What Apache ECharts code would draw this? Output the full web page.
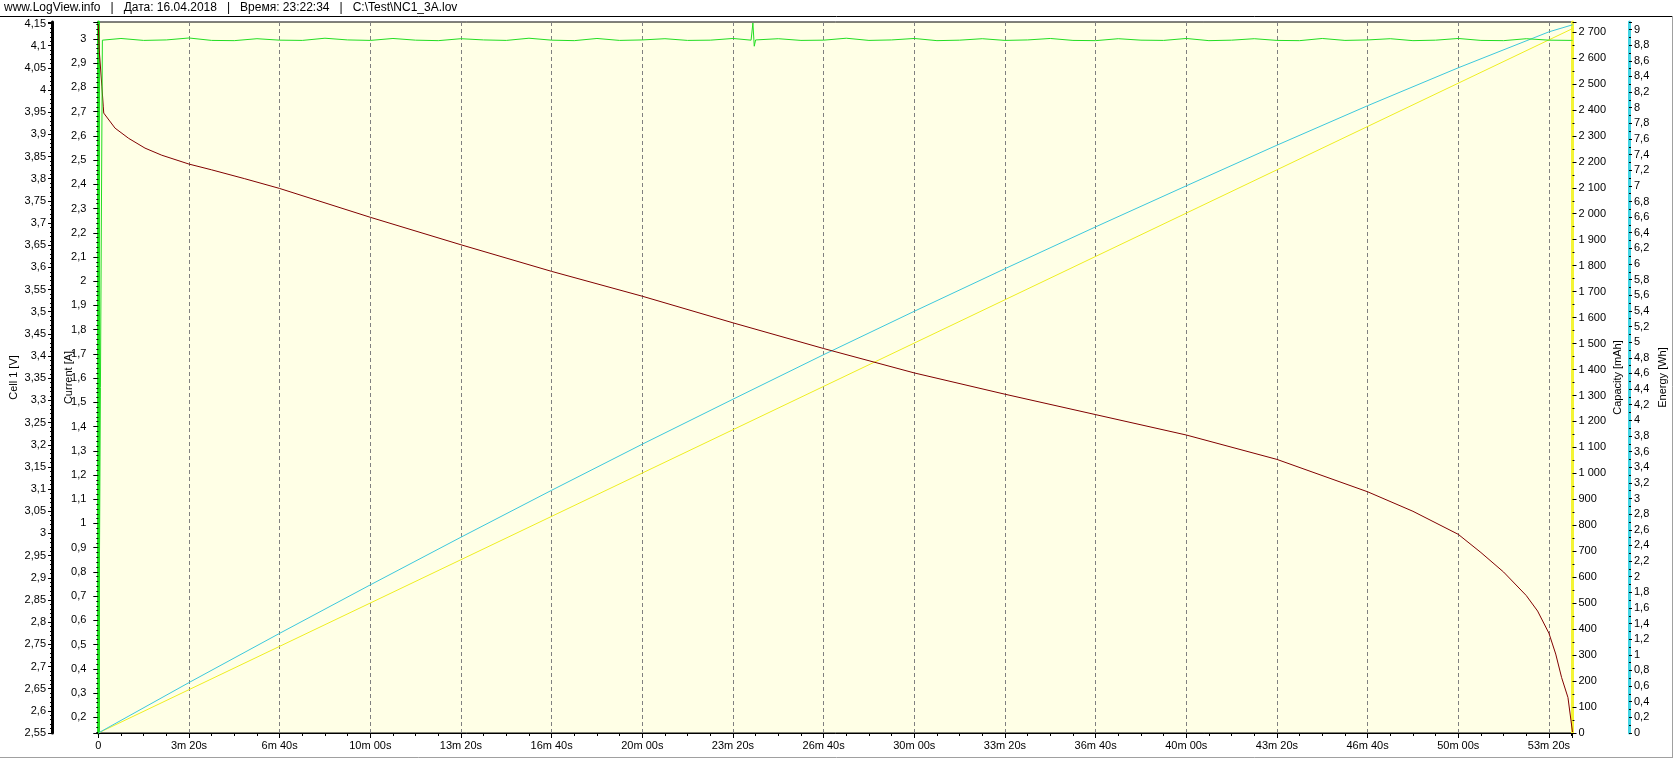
<!DOCTYPE html>
<html><head><meta charset="utf-8">
<script src="https://cdn.jsdelivr.net/npm/echarts@6/dist/echarts.min.js"></script>
<style>html,body{margin:0;padding:0;background:#fff;}#c{width:1676px;height:758px;}</style>
</head><body><div id="c"></div>
<script>
const headerText = 'www.LogView.info   |   Дата: 16.04.2018   |   Время: 23:22:34   |   C:\\Test\\NC1_3A.lov';
const axisNames = ['Cell 1 [V]', 'Current [A]', 'Capacity [mAh]', 'Energy [Wh]'];

// Cell 1 voltage [V] vs time [s]
const voltTime = [0, 2, 8, 11, 12, 37, 67, 103, 140, 200, 250, 323, 400, 600, 800, 1000, 1200, 1400, 1600, 1800, 2000, 2200, 2400, 2600, 2800, 2900, 3000, 3050, 3100, 3150, 3175, 3200, 3215, 3228, 3242, 3252];
const voltVals = [4.148, 4.09, 4.007, 3.962, 3.948, 3.914, 3.891, 3.869, 3.853, 3.833, 3.820, 3.800, 3.778, 3.713, 3.651, 3.591, 3.535, 3.475, 3.417, 3.362, 3.314, 3.268, 3.222, 3.167, 3.094, 3.05, 2.998, 2.957, 2.913, 2.86, 2.825, 2.775, 2.728, 2.675, 2.63, 2.552];

// Current [A] vs time [s]
const currTime = [0, 9, 50, 100, 150, 200, 250, 300, 350, 400, 450, 500, 550, 600, 650, 700, 750, 800, 850, 900, 950, 1000, 1050, 1100, 1150, 1200, 1250, 1300, 1350, 1400, 1440, 1444, 1447, 1450, 1500, 1550, 1600, 1650, 1700, 1750, 1800, 1850, 1900, 1950, 2000, 2050, 2100, 2150, 2200, 2250, 2300, 2350, 2400, 2450, 2500, 2550, 2600, 2650, 2700, 2750, 2800, 2850, 2900, 2950, 3000, 3050, 3100, 3150, 3200, 3250, 3252];
const currVals = [0, 2.995, 3.002, 2.994, 2.996, 3.004, 2.994, 2.993, 3.001, 2.995, 2.994, 3.003, 2.996, 2.994, 3.002, 2.995, 2.993, 3.001, 2.996, 2.994, 3.003, 2.995, 2.993, 3.002, 2.994, 2.996, 3.001, 2.994, 2.995, 3.002, 2.995, 3.066, 2.970, 2.996, 3.001, 2.994, 2.995, 3.003, 2.994, 2.996, 3.002, 2.993, 2.995, 3.001, 2.994, 2.996, 3.002, 2.994, 2.993, 3.001, 2.995, 2.994, 3.002, 2.993, 2.995, 3.001, 2.994, 2.993, 3.002, 2.994, 2.996, 3.001, 2.993, 2.995, 3.002, 2.994, 2.993, 3.001, 2.995, 2.994, 2.994];

// Capacity [mAh] vs time [s]
const capTime = [0, 1600, 3252];
const capVals = [0, 1335, 2713];

// Energy [Wh] vs time [s]
const energyTime = [0, 200, 400, 600, 800, 1000, 1200, 1400, 1600, 1800, 2000, 2200, 2400, 2600, 2800, 3000, 3200, 3252];
const energyVals = [0, 0.645, 1.275, 1.895, 2.505, 3.105, 3.695, 4.27, 4.84, 5.395, 5.94, 6.475, 7.0, 7.52, 8.025, 8.51, 8.97, 9.06];

const FONT = 'Liberation Sans';
const zip = (a, b) => a.map((t, i) => [t, b[i]]);
const comma = (d) => (v) => String(+v.toFixed(d)).replace('.', ',');
const timeFmt = (v) => {
  if (v === 0) return '0';
  const m = Math.floor(v / 60), s = Math.round(v - m * 60);
  return m + 'm ' + (s < 10 ? '0' : '') + s + 's';
};
const capFmt = (v) => {
  const n = Math.round(v);
  return n >= 1000 ? Math.floor(n / 1000) + ' ' + String(n % 1000).padStart(3, '0') : String(n);
};

function yAx(o) {
  return Object.assign({
    type: 'value',
    nameLocation: 'middle',
    nameRotate: 90,
    nameMoveOverlap: false,
    nameTextStyle: { fontFamily: FONT, fontSize: 11, color: '#000' },
    axisLine: { show: true, onZero: false, lineStyle: { color: o.lineColor, width: 3 } },
    axisTick: { show: true, length: o.tickLen, lineStyle: { color: '#000', width: 1 } },
    minorTick: { show: true, splitNumber: o.minor, length: 2, lineStyle: { color: '#000', width: 1 } },
    splitLine: { show: false },
    axisLabel: { fontFamily: FONT, fontSize: 11, color: '#000', margin: o.margin, formatter: o.fmt, showMaxLabel: false, showMinLabel: o.showMin !== false },
  }, o.base);
}

const chart = echarts.init(document.getElementById('c'), null, { renderer: 'canvas' });
chart.setOption({
  animation: false,
  backgroundColor: '#ffffff',
  grid: { left: 98, right: 102, top: 22, bottom: 25, show: true, backgroundColor: '#FFFFE6', borderColor: '#000', borderWidth: 1 },
  graphic: [
    { type: 'text', left: 4, top: 2, style: { text: headerText, font: '12px "Liberation Sans"', fill: '#000' } },
    { type: 'line', shape: { x1: 0, y1: 16.5, x2: 1673, y2: 16.5 }, style: { stroke: '#000', lineWidth: 1 } },
    { type: 'line', shape: { x1: 1672.5, y1: 16, x2: 1672.5, y2: 757.5 }, style: { stroke: '#a0a0a0', lineWidth: 1 } },
    { type: 'line', shape: { x1: 0, y1: 757.5, x2: 1673, y2: 757.5 }, style: { stroke: '#a0a0a0', lineWidth: 1 } }
  ],
  xAxis: {
    type: 'value', min: 0, max: 3252, interval: 200,
    axisLine: { onZero: false, lineStyle: { color: '#000', width: 1 } },
    axisTick: { length: 5, lineStyle: { color: '#000' } },
    minorTick: { show: true, splitNumber: 4, length: 3, lineStyle: { color: '#000' } },
    axisLabel: { fontFamily: FONT, fontSize: 11, color: '#000', margin: 7, showMaxLabel: false, formatter: timeFmt },
    splitLine: { show: true, lineStyle: { color: '#808080', width: 1, type: [4, 3] } }
  },
  yAxis: [
    yAx({ lineColor: '#000', tickLen: 4, minor: 5, margin: 6, fmt: comma(2),
      base: { position: 'left', offset: 46.3, min: 2.55, max: 4.1534, interval: 0.05, name: axisNames[0], nameGap: 33 } }),
    yAx({ lineColor: '#22DD22', tickLen: 5, minor: 5, margin: 12, fmt: comma(1), showMin: false,
      base: { position: 'left', offset: 0, min: 0.135, max: 3.07, minInterval: 0.1, maxInterval: 0.1, splitNumber: 29, name: axisNames[1], nameGap: 24 } }),
    yAx({ lineColor: '#F4F434', tickLen: 4, minor: 2, margin: 6, fmt: capFmt,
      base: { position: 'right', offset: 0, min: 0, max: 2738.5, interval: 100, name: axisNames[2], nameGap: 40 } }),
    yAx({ lineColor: '#44D4E4', tickLen: 3, minor: 2, margin: 5, fmt: comma(1),
      base: { position: 'right', offset: 56.5, min: 0, max: 9.096, interval: 0.2, name: axisNames[3], nameGap: 28 } })
  ],
  series: [
    { name: 'Capacity', type: 'line', yAxisIndex: 2, data: zip(capTime, capVals), showSymbol: false, symbol: 'none', lineStyle: { color: '#EEEE22', width: 1 }, z: 2 },
    { name: 'Energy', type: 'line', yAxisIndex: 3, data: zip(energyTime, energyVals), showSymbol: false, symbol: 'none', lineStyle: { color: '#3CC8DC', width: 1 }, z: 3 },
    { name: 'Cell 1', type: 'line', yAxisIndex: 0, data: zip(voltTime, voltVals), showSymbol: false, symbol: 'none', lineStyle: { color: '#800000', width: 1 }, z: 4 },
    { name: 'Current', type: 'line', yAxisIndex: 1, data: zip(currTime, currVals), showSymbol: false, symbol: 'none', lineStyle: { color: '#22DD22', width: 1 }, z: 5 }
  ]
});
</script>
</body></html>
